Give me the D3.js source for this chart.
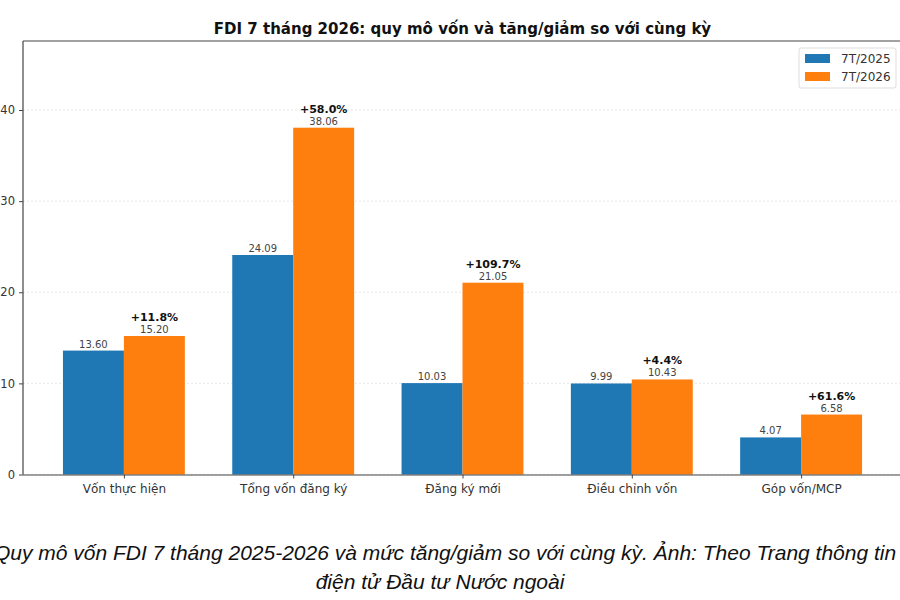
<!DOCTYPE html>
<html>
<head>
<meta charset="utf-8">
<script src="https://cdn.jsdelivr.net/npm/d3@7"></script>
<style>
  body { margin: 0; background: #fff; }
  svg { display: block; }
  text { font-family: "DejaVu Sans", sans-serif; }
</style>
</head>
<body>
<svg id="chart" width="900" height="600"></svg>
<script>
const categories = ["Vốn thực hiện", "Tổng vốn đăng ký", "Đăng ký mới", "Điều chỉnh vốn", "Góp vốn/MCP"];
const values2025 = [13.60, 24.09, 10.03, 9.99, 4.07];
const values2026 = [15.20, 38.06, 21.05, 10.43, 6.58];
const changeLabels = ["+11.8%", "+58.0%", "+109.7%", "+4.4%", "+61.6%"];
const seriesNames = ["7T/2025", "7T/2026"];
const yTicks = [0, 10, 20, 30, 40];

const colors = ["#1f77b4", "#ff7f0e"];
const barW = 0.36;

const svg = d3.select("#chart");
const axL = 23, axR = 902, axT = 41, axB = 474.5;

// matplotlib-like margins around the bars
const x = d3.scaleLinear().domain([-0.596, 4.596]).range([axL, axR]);
const y = d3.scaleLinear().domain([0, d3.max(values2026) * 1.25]).range([axB, axT]);

// grid
svg.append("g").selectAll("line").data(yTicks).join("line")
  .attr("x1", axL).attr("x2", axR)
  .attr("y1", d => y(d)).attr("y2", d => y(d))
  .attr("stroke", "#cfcfcf").attr("stroke-width", 0.8)
  .attr("stroke-dasharray", "2,2").attr("opacity", 0.6);

// bars
const series = [values2025, values2026];
series.forEach((vals, s) => {
  svg.append("g").selectAll("rect").data(vals).join("rect")
    .attr("x", (d, i) => x(i + (s === 0 ? -barW : 0)))
    .attr("width", x(barW) - x(0))
    .attr("y", d => y(d))
    .attr("height", d => y(0) - y(d))
    .attr("fill", colors[s]);

  svg.append("g").selectAll("text").data(vals).join("text")
    .attr("x", (d, i) => x(i + (s === 0 ? -barW / 2 : barW / 2)))
    .attr("y", d => y(d) - 3)
    .attr("text-anchor", "middle")
    .attr("font-size", 10)
    .attr("fill", "#444")
    .text(d => d.toFixed(2));
});

// change labels above 2026 bars
svg.append("g").selectAll("text").data(changeLabels).join("text")
  .attr("x", (d, i) => x(i + barW / 2))
  .attr("y", (d, i) => y(values2026[i]) - 15)
  .attr("text-anchor", "middle")
  .attr("font-size", 11)
  .attr("font-weight", "bold")
  .attr("fill", "#111")
  .text(d => d);

// axes
const yAxis = svg.append("g").attr("transform", `translate(${axL},0)`)
  .call(d3.axisLeft(y).tickValues(yTicks).tickSize(4).tickPadding(4));
const xAxis = svg.append("g").attr("transform", `translate(0,${axB})`)
  .call(d3.axisBottom(x).tickValues(d3.range(categories.length)).tickFormat(i => categories[i]).tickSize(4).tickPadding(6));
[yAxis, xAxis].forEach(a => {
  a.selectAll("text").attr("font-size", 12).attr("fill", "#333").style("font-family", "DejaVu Sans");
  a.selectAll("line").attr("stroke", "#444");
  a.select(".domain").attr("stroke", "#444").attr("stroke-width", 1.2);
});
yAxis.selectAll("text").attr("font-size", 11.5);
xAxis.select(".domain").attr("d", `M${axL},0.5H${axR}`);
yAxis.select(".domain").attr("d", `M0,${axB}V${axT}`);
svg.append("line").attr("x1", axL).attr("x2", axR).attr("y1", axT).attr("y2", axT)
  .attr("stroke", "#444").attr("stroke-width", 1.2);

// title
svg.append("text").attr("x", (axL + axR) / 2).attr("y", 34)
  .attr("text-anchor", "middle").attr("font-size", 15).attr("font-weight", "bold")
  .attr("fill", "#111")
  .text("FDI 7 tháng 2026: quy mô vốn và tăng/giảm so với cùng kỳ");

// legend
const lg = svg.append("g").attr("transform", "translate(799,48)");
lg.append("rect").attr("width", 97).attr("height", 40).attr("rx", 2)
  .attr("fill", "#fff").attr("stroke", "#ddd");
seriesNames.forEach((n, i) => {
  lg.append("rect").attr("x", 6).attr("y", 6 + i * 18).attr("width", 25).attr("height", 9).attr("fill", colors[i]);
  lg.append("text").attr("x", 42).attr("y", 15 + i * 18).attr("font-size", 12).attr("fill", "#333").text(n);
});

// caption
const cap = svg.append("g")
  .attr("font-style", "italic").attr("font-size", 21).attr("fill", "#111").attr("text-anchor", "middle");
cap.append("text").attr("x", 445).attr("y", 560).style("font-family", "Liberation Sans")
  .text("Quy mô vốn FDI 7 tháng 2025-2026 và mức tăng/giảm so với cùng kỳ. Ảnh: Theo Trang thông tin");
cap.append("text").attr("x", 440).attr("y", 589).style("font-family", "Liberation Sans")
  .text("điện tử Đầu tư Nước ngoài");
</script>
</body>
</html>
